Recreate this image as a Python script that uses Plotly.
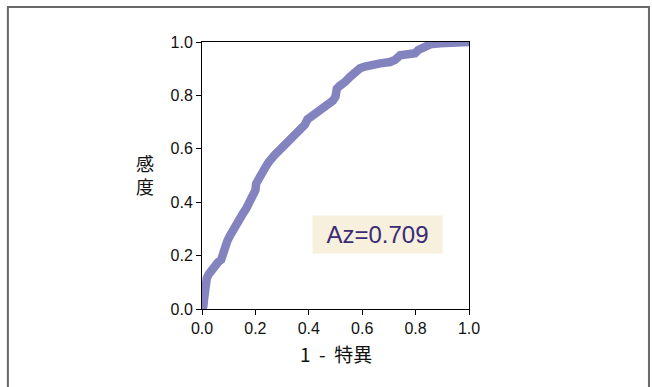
import plotly.graph_objects as go

fpr = [0.000, 0.005, 0.008, 0.010, 0.013, 0.018, 0.025, 0.035, 0.045, 0.060,
       0.072, 0.078, 0.085, 0.095, 0.105, 0.115, 0.125, 0.135, 0.145, 0.155,
       0.165, 0.175, 0.185, 0.195, 0.200, 0.203, 0.210, 0.220, 0.230, 0.240,
       0.250, 0.260, 0.275, 0.290, 0.305, 0.320, 0.335, 0.350, 0.360, 0.370,
       0.385, 0.395, 0.410, 0.430, 0.445, 0.460, 0.475, 0.490, 0.500, 0.505,
       0.515, 0.525, 0.537, 0.555, 0.573, 0.592, 0.610, 0.630, 0.667, 0.704,
       0.723, 0.742, 0.779, 0.798, 0.810, 0.841, 0.855, 0.891, 0.930, 0.977,
       1.000]
tpr = [0.000, 0.010, 0.040, 0.070, 0.100, 0.115, 0.130, 0.145, 0.160, 0.175,
       0.185, 0.210, 0.240, 0.255, 0.275, 0.295, 0.305, 0.330, 0.345, 0.360,
       0.375, 0.395, 0.410, 0.430, 0.445, 0.470, 0.485, 0.500, 0.520, 0.535,
       0.550, 0.565, 0.580, 0.595, 0.610, 0.625, 0.640, 0.650, 0.665, 0.675,
       0.690, 0.710, 0.720, 0.738, 0.745, 0.758, 0.768, 0.780, 0.795, 0.825,
       0.835, 0.840, 0.852, 0.870, 0.888, 0.902, 0.908, 0.914, 0.920, 0.925,
       0.933, 0.950, 0.960, 0.958, 0.970, 0.983, 0.991, 0.995, 0.999, 1.000,
       1.000]
tick_vals = [0.0, 0.2, 0.4, 0.6, 0.8, 1.0]
tick_text = ["0.0", "0.2", "0.4", "0.6", "0.8", "1.0"]
az_label = "Az=0.709"
x_title = "1\u00a0\u00a0-\u00a0\u00a0特異"
y_title = "感<br>度"

fig = go.Figure()
fig.add_trace(go.Scatter(x=fpr, y=tpr, mode="lines",
                         line=dict(color="#8383bf", width=8.5),
                         hoverinfo="skip", showlegend=False))

axis_common = dict(range=[0, 1], tickvals=tick_vals, ticktext=tick_text,
                   showgrid=False, zeroline=False, showline=True,
                   linecolor="black", linewidth=1, mirror=True,
                   ticks="outside", ticklen=5, tickcolor="black",
                   tickfont=dict(family="Liberation Sans, Arial", size=16, color="#111"))
fig.update_xaxes(**axis_common)
fig.update_yaxes(**axis_common)

annotations = [
    dict(x=0.657, y=0.279, xref="x", yref="y", text=az_label, showarrow=False,
         font=dict(family="Liberation Sans, Arial", size=24, color="#3b2a78"),
         bgcolor="#f6f0dc", width=127, height=35),
    dict(x=0.5, y=-0.168, xref="paper", yref="paper", text=x_title, showarrow=False,
         yanchor="middle",
         font=dict(family="Noto Sans CJK JP", size=19, color="#111")),
    dict(x=-0.215, y=0.502, xref="paper", yref="paper", text=y_title, showarrow=False,
         xanchor="center", yanchor="middle",
         font=dict(family="Noto Sans CJK JP", size=18, color="#111")),
]

fig.update_layout(
    width=652, height=387,
    margin=dict(l=202, r=183, t=42, b=78),
    paper_bgcolor="white", plot_bgcolor="white",
    shapes=[dict(type="rect", xref="paper", yref="paper",
                 x0=-0.727, x1=1.674, y0=-0.40, y1=1.131,
                 line=dict(color="#686868", width=2), fillcolor="rgba(0,0,0,0)")],
    annotations=annotations,
)

fig.write_html("out.html")
